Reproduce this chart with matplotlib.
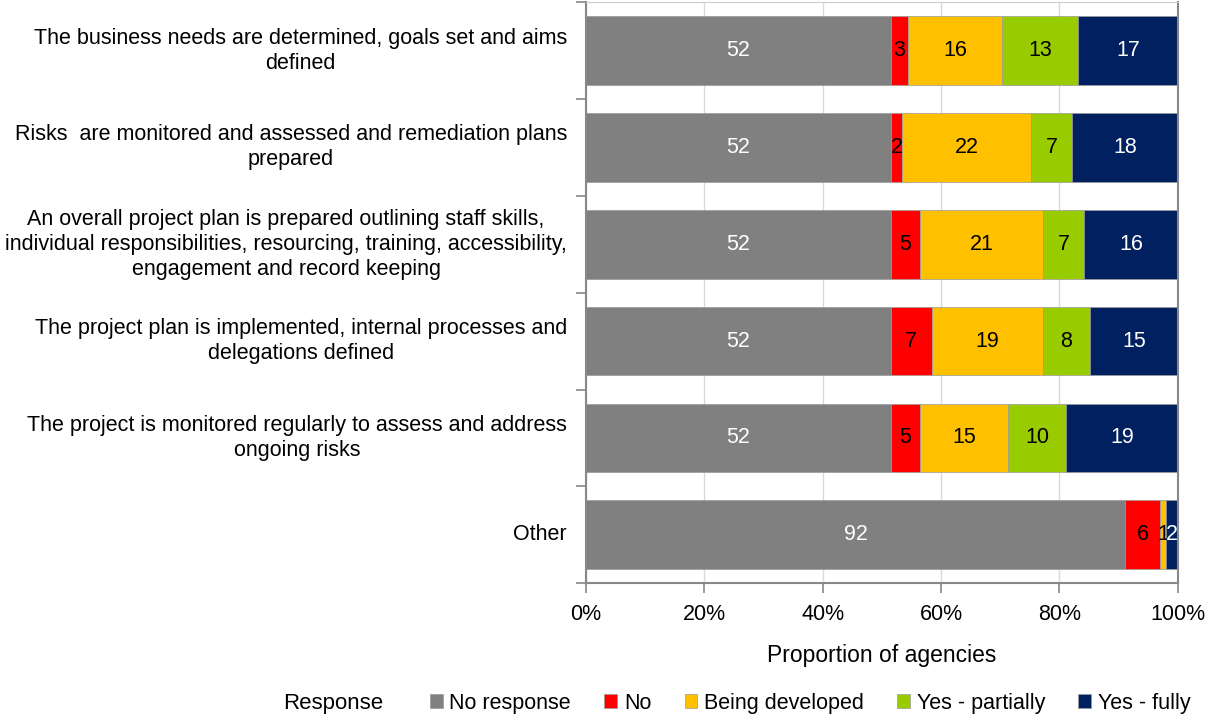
import numpy as np
import matplotlib.pyplot as plt
from matplotlib.ticker import PercentFormatter, FixedLocator

plt.rcParams['font.family'] = ['Liberation Sans', 'DejaVu Sans']

# data
categories = [
    "The business needs are determined, goals set and aims\ndefined",
    "Risks  are monitored and assessed and remediation plans\nprepared",
    "An overall project plan is prepared outlining staff skills,\nindividual responsibilities, resourcing, training, accessibility,\nengagement and record keeping",
    "The project plan is implemented, internal processes and\ndelegations defined",
    "The project is monitored regularly to assess and address\nongoing risks",
    "Other",
]
responses = ["No response", "No", "Being developed", "Yes - partially", "Yes - fully"]
no_response = [52, 52, 52, 52, 52, 92]
no = [3, 2, 5, 7, 5, 6]
being_developed = [16, 22, 21, 19, 15, 1]
yes_partially = [13, 7, 7, 8, 10, 0]
yes_fully = [17, 18, 16, 15, 19, 2]

colors = ["#808080", "#ff0000", "#ffc000", "#99cc00", "#002060"]
text_colors = ["white", "black", "black", "black", "white"]

series = np.array([no_response, no, being_developed, yes_partially, yes_fully], dtype=float)
totals = series.sum(axis=0)
props = series / totals

fs = 15.5
fig = plt.figure(figsize=(12.08, 7.2), dpi=100)
ax = fig.add_axes([0.485, 0.19, 0.49, 0.807])

y = np.arange(len(categories))
left = np.zeros(len(categories))
for i, name in enumerate(responses):
    bars = ax.barh(y, props[i], left=left, height=0.71, color=colors[i],
                   edgecolor="#9a9a9a", linewidth=0.5, label=name, zorder=2)
    for j, b in enumerate(bars):
        if series[i][j] > 0:
            ax.text(left[j] + props[i][j] / 2, y[j], "%d" % series[i][j],
                    ha="center", va="center", fontsize=fs,
                    color=text_colors[i], zorder=3)
    left += props[i]

ax.set_xlim(0, 1)
ax.set_ylim(len(categories) - 0.5, -0.5)
ax.xaxis.set_major_formatter(PercentFormatter(1.0, decimals=0))
ax.set_xticks([0, 0.2, 0.4, 0.6, 0.8, 1.0])
ax.grid(axis="x", color="#d9d9d9", linewidth=1, zorder=0)
ax.set_axisbelow(True)

ax.set_yticks(y)
ax.set_yticklabels(categories, fontsize=fs, ha="center", va="center", linespacing=1.25)
ax.yaxis.set_minor_locator(FixedLocator(np.arange(-0.5, len(categories), 1)))
ax.tick_params(axis="y", which="major", length=0, pad=0)
ax.tick_params(axis="y", which="minor", length=7, color="#888888", width=1.2)
ax.tick_params(axis="x", length=7, color="#888888", width=1.2, labelsize=fs, pad=8)

# centre the multi-line labels on their own width
fig.canvas.draw()
for lab in ax.get_yticklabels():
    bb = lab.get_window_extent()
    lab.set_x(0)
    lab.set_transform(ax.get_yaxis_transform() +
                      plt.matplotlib.transforms.ScaledTranslation(-(bb.width / 2 + 19) / 100, 0, fig.dpi_scale_trans))

for s in ["left", "bottom", "right"]:
    ax.spines[s].set_color("#888888")
    ax.spines[s].set_linewidth(1.5)
ax.spines["top"].set_color("#cccccc")

ax.set_xlabel("Proportion of agencies", fontsize=16.5, labelpad=14)

fig.text(0.234, 0.008, "Response", fontsize=16, va="bottom")
fig.legend(loc="lower left", bbox_to_anchor=(0.340, -0.018), ncol=5, frameon=False,
           fontsize=fs, handlelength=0.6, handleheight=0.6, handletextpad=0.3,
           columnspacing=1.55)

fig.savefig("out.png", dpi=100)
